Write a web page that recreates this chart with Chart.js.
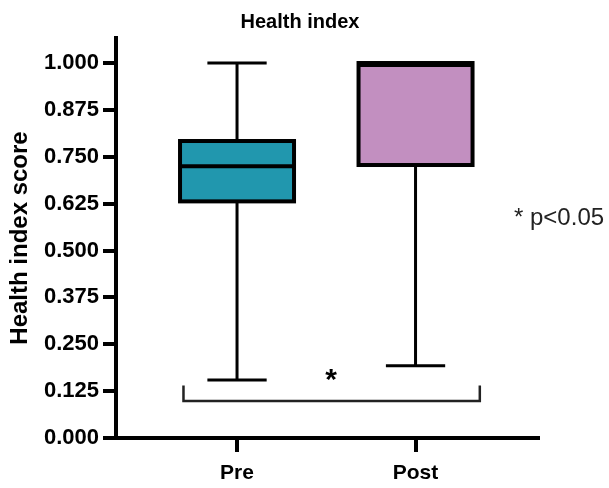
<!DOCTYPE html>
<html>
<head>
<meta charset="utf-8">
<title>Health index</title>
<script src="https://cdn.jsdelivr.net/npm/chart.js@4.4.1/dist/chart.umd.min.js"></script>
<style>
  html, body { margin: 0; padding: 0; background: #ffffff; }
  #wrap { width: 609px; height: 488px; position: relative; }
</style>
</head>
<body>
<div id="wrap"><canvas id="chart" width="609" height="488"></canvas></div>
<script>
// Box-plot summary per group
const categories = ['Pre', 'Post'];
const whiskerMin = [0.155, 0.193];
const quartile1  = [0.631, 0.728];
const medians    = [0.725, 1.000];
const quartile3  = [0.792, 1.000];
const whiskerMax = [1.000, 1.000];

// Y-axis tick labels
const yTicks = [0.000, 0.125, 0.250, 0.375, 0.500, 0.625, 0.750, 0.875, 1.000];

// Chart title and significance annotation text
const chartTitle = 'Health index';
const sigMark = '*';
const sigNote = '* p<0.05';

const FONT = "'Liberation Sans', Arial, sans-serif";
const boxFill = ['#2197AE', '#C28FC0'];

// bracket spanning both groups, in data units
const bracket = { x0: -0.30, x1: 1.36, y: 0.099, tip: 0.041, markX: 0.527, markY: 0.165 };

const boxPlotPlugin = {
  id: 'boxPlot',
  afterDatasetsDraw(chart) {
    const ctx = chart.ctx;
    const xs = chart.scales.x, ys = chart.scales.y;
    const meta = chart.getDatasetMeta(0);
    ctx.save();
    ctx.strokeStyle = '#000';
    ctx.lineCap = 'butt';
    meta.data.forEach((bar, i) => {
      const cx = bar.x;
      const half = bar.width / 2;
      const yMin = ys.getPixelForValue(whiskerMin[i]);
      const yQ1 = ys.getPixelForValue(quartile1[i]);
      const yMed = ys.getPixelForValue(medians[i]);
      const yQ3 = ys.getPixelForValue(quartile3[i]);
      const yMax = ys.getPixelForValue(whiskerMax[i]);
      const capHalf = half * 0.52;

      // whiskers with caps
      ctx.lineWidth = 3;
      ctx.beginPath();
      if (yMax < yQ3 - 0.5) {
        ctx.moveTo(cx, yQ3); ctx.lineTo(cx, yMax);
        ctx.moveTo(cx - capHalf, yMax); ctx.lineTo(cx + capHalf, yMax);
      }
      ctx.moveTo(cx, yQ1); ctx.lineTo(cx, yMin);
      ctx.moveTo(cx - capHalf, yMin); ctx.lineTo(cx + capHalf, yMin);
      ctx.stroke();

      // box outline
      ctx.lineWidth = 4;
      ctx.strokeRect(cx - half, yQ3, half * 2, yQ1 - yQ3);

      // median line (nudged inside when it coincides with the box top)
      ctx.beginPath();
      const medY = (Math.abs(yMed - yQ3) < 1) ? yMed + 2 : yMed;
      ctx.moveTo(cx - half, medY); ctx.lineTo(cx + half, medY);
      ctx.stroke();
    });

    // significance bracket
    const bx0 = xs.getPixelForValue(bracket.x0);
    const bx1 = xs.getPixelForValue(bracket.x1);
    const by = ys.getPixelForValue(bracket.y);
    const bt = ys.getPixelForValue(bracket.y + bracket.tip);
    ctx.strokeStyle = '#222';
    ctx.lineWidth = 2.5;
    ctx.beginPath();
    ctx.moveTo(bx0, bt); ctx.lineTo(bx0, by); ctx.lineTo(bx1, by); ctx.lineTo(bx1, bt);
    ctx.stroke();

    ctx.fillStyle = '#000';
    ctx.font = 'bold 30px ' + FONT;
    ctx.textAlign = 'center';
    ctx.textBaseline = 'middle';
    ctx.fillText(sigMark, xs.getPixelForValue(bracket.markX), ys.getPixelForValue(bracket.markY) + 5);

    // note at the right
    ctx.fillStyle = '#222';
    ctx.font = '24px ' + FONT;
    ctx.textAlign = 'left';
    ctx.textBaseline = 'middle';
    ctx.fillText(sigNote, 514, 218);

    // title
    ctx.fillStyle = '#000';
    ctx.font = 'bold 20px ' + FONT;
    ctx.textAlign = 'center';
    ctx.fillText(chartTitle, 300, 22);
    ctx.restore();
  }
};

new Chart(document.getElementById('chart'), {
  type: 'bar',
  data: {
    datasets: [{
      data: categories.map((c, i) => ({ x: i, y: [quartile1[i], quartile3[i]] })),
      backgroundColor: boxFill,
      borderWidth: 0,
      barThickness: 114
    }]
  },
  options: {
    responsive: false,
    animation: false,
    events: [],
    layout: { padding: { left: 0, right: 71, top: 38, bottom: 0 } },
    plugins: {
      legend: { display: false },
      tooltip: { enabled: false },
      title: { display: false }
    },
    scales: {
      x: {
        type: 'linear',
        min: -0.678,
        max: 1.686,
        offset: false,
        afterBuildTicks(scale) { scale.ticks = categories.map((c, i) => ({ value: i })); },
        afterFit(scale) { scale.height = 50; },
        ticks: {
          autoSkip: false,
          maxRotation: 0,
          padding: 9,
          color: '#000',
          font: { family: FONT, size: 21, weight: 'bold' },
          callback: (v) => categories[v]
        },
        grid: { display: true, drawOnChartArea: false, offset: false, tickLength: 14, lineWidth: 4, color: '#000' },
        border: { display: true, color: '#000', width: 4 }
      },
      y: {
        min: 0,
        max: 1.0667,
        afterBuildTicks(scale) { scale.ticks = yTicks.map(v => ({ value: v })); },
        afterFit(scale) { scale.width = 116; },
        ticks: {
          padding: 4,
          color: '#000',
          font: { family: FONT, size: 22, weight: 'bold' },
          callback: (v) => Number(v).toFixed(3)
        },
        grid: { display: true, drawOnChartArea: false, tickLength: 13, lineWidth: 4, color: '#000' },
        border: { display: true, color: '#000', width: 4 },
        title: {
          display: true,
          text: 'Health index score',
          color: '#000',
          font: { family: FONT, size: 24, weight: 'bold', lineHeight: 1.2 },
          padding: { top: 6, bottom: 0 }
        }
      }
    }
  },
  plugins: [boxPlotPlugin]
});
</script>
</body>
</html>
